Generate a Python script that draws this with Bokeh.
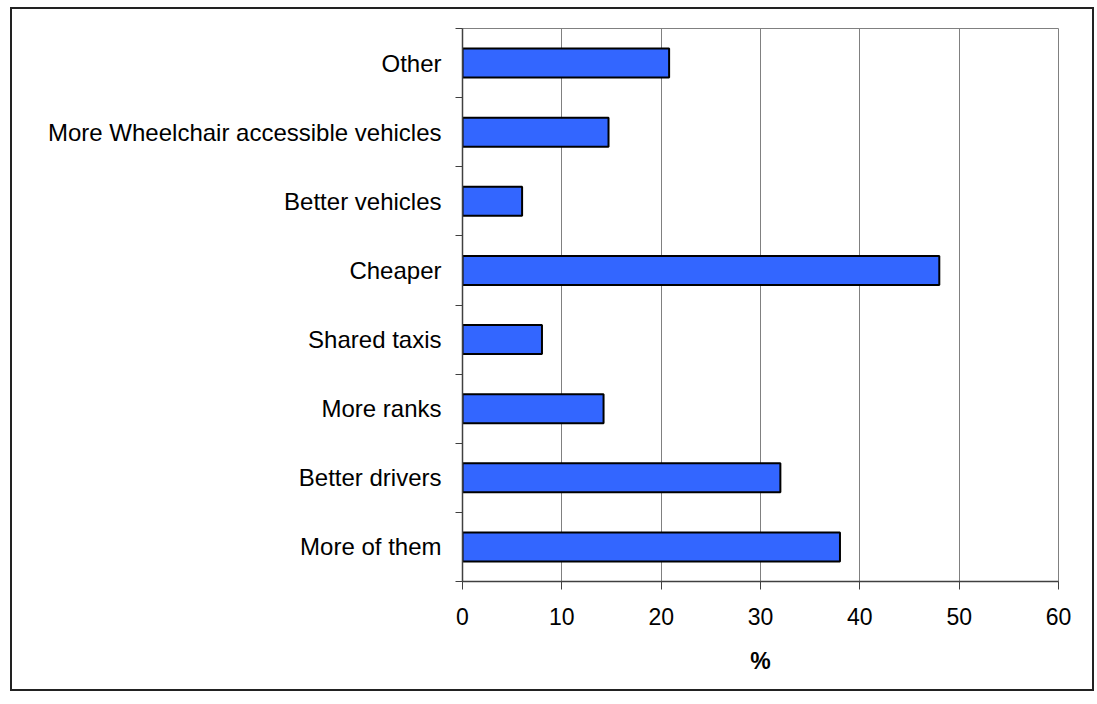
from bokeh.plotting import figure
from bokeh.models import FixedTicker, Range1d, ColumnDataSource
from bokeh.embed import file_html
from bokeh.resources import INLINE

categories = ["More of them", "Better drivers", "More ranks", "Shared taxis",
              "Cheaper", "Better vehicles", "More Wheelchair accessible vehicles", "Other"]
values = [38.0, 32.0, 14.2, 8.0, 48.0, 6.0, 14.7, 20.8]
x_ticks = [0, 10, 20, 30, 40, 50, 60]

n = len(categories)
positions = list(range(1, n + 1))
source = ColumnDataSource(dict(y=positions, v=values, cat=categories))

FONT = "Liberation Sans"
AX = "#404040"

p = figure(width=1084, height=684, x_range=Range1d(0, 60), y_range=Range1d(0.5, n + 0.5),
           output_backend="svg", toolbar_location=None,
           min_border_left=450, min_border_right=38, min_border_top=19, min_border_bottom=112,
           styles={"border": "2px solid #222222", "margin-left": "10px", "margin-top": "7px"})

p.hbar(y="y", right="v", left=0, height=0.42, fill_color="#3366FF",
       line_color="black", line_width=2, source=source)

p.outline_line_color = "#808080"
p.outline_line_width = 1
p.ygrid.grid_line_color = None
p.xgrid.grid_line_color = "#808080"
p.xgrid.grid_line_width = 1
p.xgrid.ticker = FixedTicker(ticks=x_ticks)

# y axis
ya = p.yaxis[0]
ya.ticker = FixedTicker(ticks=positions, minor_ticks=[k + 0.5 for k in range(0, n + 1)])
ya.major_label_overrides = {pos: cat for pos, cat in zip(positions, categories)}
ya.major_tick_out = 0
ya.major_tick_in = 0
ya.minor_tick_out = 7
ya.minor_tick_in = 0
ya.minor_tick_line_color = AX
ya.axis_line_color = AX
ya.axis_line_width = 1.5
ya.major_label_standoff = 14
ya.major_label_text_font = FONT
ya.major_label_text_font_size = "24px"
ya.major_label_text_color = "black"

# x axis
xa = p.xaxis[0]
xa.ticker = FixedTicker(ticks=x_ticks)
xa.major_tick_out = 8
xa.major_tick_in = 0
xa.minor_tick_out = 0
xa.minor_tick_in = 0
xa.major_tick_line_color = AX
xa.axis_line_color = AX
xa.axis_line_width = 1.5
xa.major_label_standoff = 18
xa.major_label_text_font = FONT
xa.major_label_text_font_size = "23px"
xa.major_label_text_color = "black"
xa.axis_label = "%"
xa.axis_label_text_font = FONT
xa.axis_label_text_font_size = "23px"
xa.axis_label_text_font_style = "bold"
xa.axis_label_text_color = "black"
xa.axis_label_standoff = 20

open("out.html", "w").write(file_html(p, INLINE))
